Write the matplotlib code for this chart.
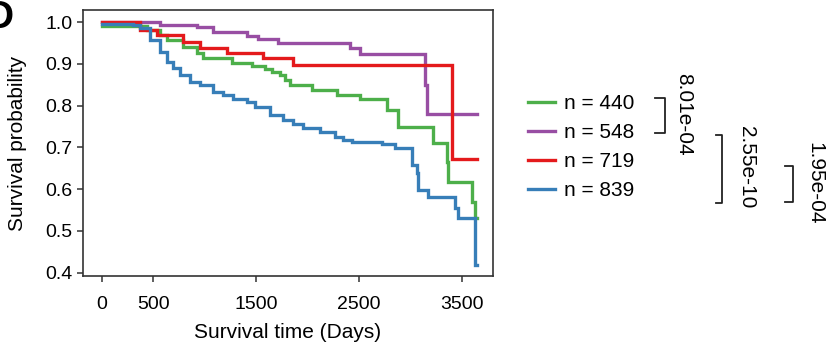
import matplotlib
matplotlib.use("Agg")
import matplotlib.pyplot as plt
from matplotlib.lines import Line2D

plt.rcParams['font.family'] = ['Liberation Sans', 'DejaVu Sans']

# ---- data ----
green_t = [0, 442, 568, 636, 791, 927, 985, 1267, 1461, 1587, 1655, 1733, 1782, 1830,
           2044, 2286, 2510, 2772, 2879, 3218, 3354, 3364, 3597, 3626, 3646]
green_s = [0.990, 0.981, 0.969, 0.957, 0.941, 0.925, 0.913, 0.901, 0.895, 0.887, 0.881,
           0.873, 0.861, 0.849, 0.837, 0.825, 0.815, 0.789, 0.748, 0.710, 0.665, 0.618,
           0.570, 0.531, 0.531]

purple_t = [0, 568, 927, 1083, 1413, 1519, 1713, 2413, 2510, 3141, 3160, 3646]
purple_s = [1.000, 0.993, 0.989, 0.977, 0.967, 0.959, 0.951, 0.937, 0.923, 0.849,
            0.779, 0.779]

red_t = [0, 374, 539, 791, 956, 1218, 1568, 1859, 3403, 3646]
red_s = [1.000, 0.981, 0.969, 0.953, 0.937, 0.927, 0.913, 0.897, 0.672, 0.672]

blue_t = [0, 306, 374, 471, 568, 636, 694, 762, 859, 956, 1083, 1180, 1277, 1413, 1490,
          1636, 1762, 1859, 1956, 2121, 2267, 2345, 2432, 2723, 2850, 3015, 3063, 3073,
          3170, 3432, 3461, 3626, 3640]
blue_s = [0.995, 0.993, 0.985, 0.957, 0.929, 0.905, 0.889, 0.873, 0.857, 0.849, 0.833,
          0.825, 0.817, 0.809, 0.797, 0.778, 0.766, 0.755, 0.746, 0.738, 0.726, 0.718,
          0.714, 0.708, 0.698, 0.658, 0.638, 0.598, 0.581, 0.554, 0.530, 0.419, 0.419]

group_labels = ["n = 440", "n = 548", "n = 719", "n = 839"]
colors = ["#4daf4a", "#984ea3", "#e41a1c", "#377eb8"]
pvalues = ["8.01e-04", "2.55e-10", "1.95e-04"]
x_ticks = [0, 500, 1500, 2500, 3500]
y_ticks = [0.4, 0.5, 0.6, 0.7, 0.8, 0.9, 1.0]

# ---- figure ----
W, H = 826, 345
fig = plt.figure(figsize=(W / 100, H / 100), dpi=100)
ax = fig.add_axes([83 / W, 1 - 276 / H, (493 - 83) / W, (276 - 10) / H])

series = [(green_t, green_s), (purple_t, purple_s), (red_t, red_s), (blue_t, blue_s)]
handles = []
for (t, s), c in zip(series, colors):
    h, = ax.step(t, s, where='post', color=c, lw=2.4, solid_joinstyle='miter')
    handles.append(h)

ax.set_xlim(-180, 3800)
ax.set_ylim(0.392, 1.029)
ax.set_xticks(x_ticks)
ax.set_xticklabels([str(v) for v in x_ticks])
ax.set_yticks(y_ticks)
ax.set_yticklabels([f"{v:.1f}" for v in y_ticks])
ax.tick_params(axis='both', labelsize=14, color='#333333', width=1.1, length=4.5)
ax.tick_params(axis='x', pad=10)
ax.tick_params(axis='y', pad=3)
for sp in ax.spines.values():
    sp.set_color('#333333')
    sp.set_linewidth(1.2)
ax.set_xlabel("Survival time (Days)", fontsize=15, labelpad=7)
ax.set_ylabel("Survival probability", fontsize=15, labelpad=13)

fig.text(-0.018, 1 - 28 / H, "D", fontsize=28, fontweight='bold', va='baseline', ha='left')

# legend
fig.legend(handles, group_labels, loc='upper left', bbox_to_anchor=(528 / W, 1 - 94 / H),
           frameon=False, fontsize=15, handlelength=1.3, handletextpad=0.45,
           labelspacing=0.48, borderpad=0, borderaxespad=0)

# significance brackets (pixel coords)
def bracket(x0, x1, y0, y1):
    xs = [x0 / W, x1 / W, x1 / W, x0 / W]
    ys = [1 - y0 / H, 1 - y0 / H, 1 - y1 / H, 1 - y1 / H]
    fig.add_artist(Line2D(xs, ys, color='#222222', lw=1.3, transform=fig.transFigure))

bracket(655, 665, 98, 133)
bracket(716, 722, 135, 203)
bracket(785, 793, 166, 202)

for txt, (x, y) in zip(pvalues, [(684, 114), (746, 167), (815, 183)]):
    fig.text(x / W, 1 - y / H, txt, rotation=-90, fontsize=15, ha='center', va='center')

fig.savefig("out.png", dpi=100)
